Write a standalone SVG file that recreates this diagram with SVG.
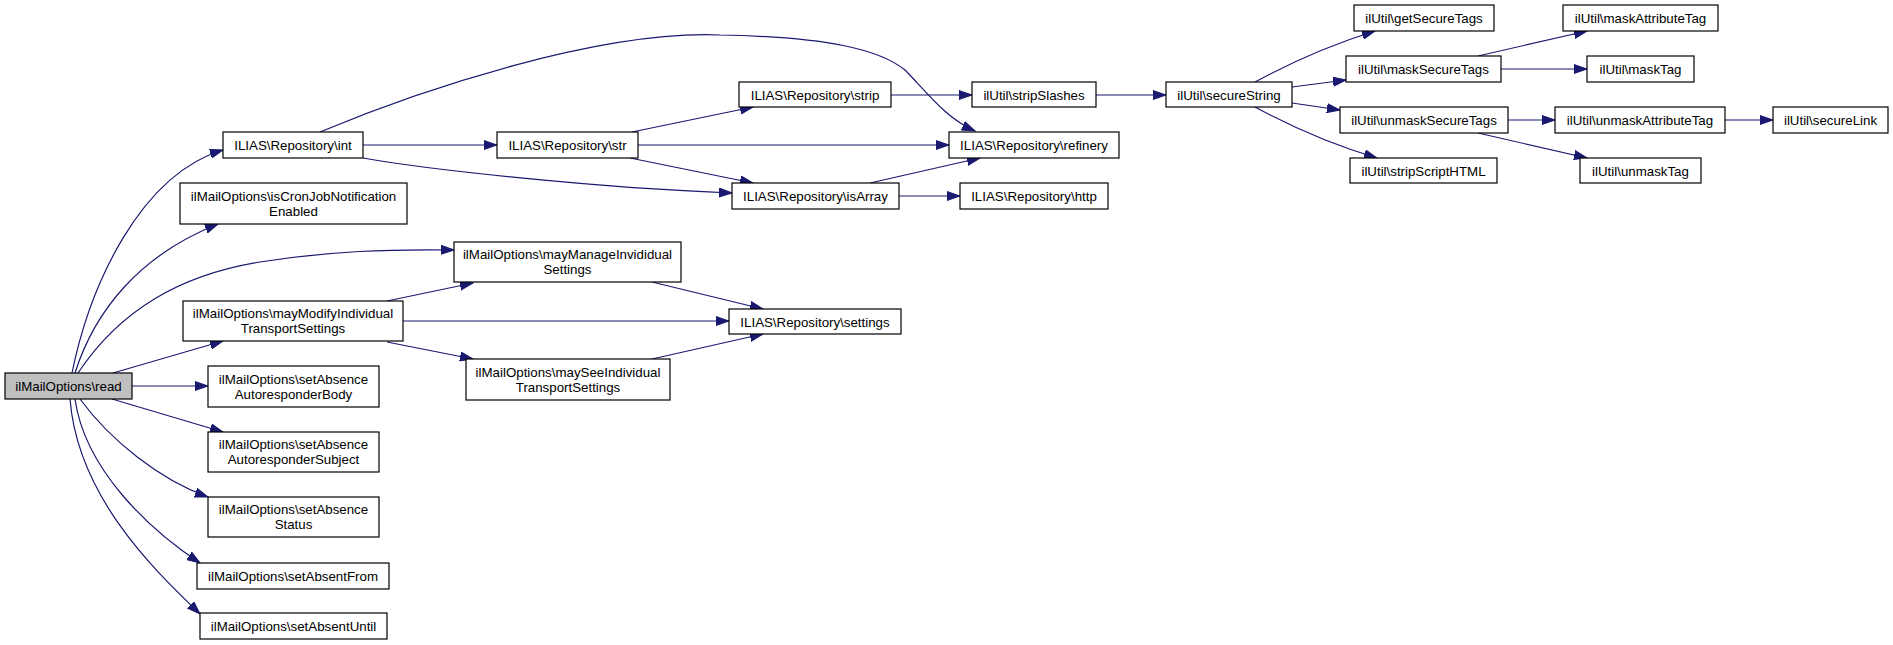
<svg xmlns="http://www.w3.org/2000/svg" width="1893" height="645" viewBox="0 0 1893 645">
<defs>
<style>
.n rect{fill:#fff;stroke:#000;stroke-width:1.2}
.n.root rect{fill:#bfbfbf}
.n text{font-family:"Liberation Sans",Arial,sans-serif;font-size:13.3px;text-anchor:middle;fill:#000}
.e path{fill:none;stroke:#191970;stroke-width:1.2;marker-end:url(#arr)}
</style>
<marker id="arr" markerWidth="14" markerHeight="10" refX="13" refY="5" orient="auto" markerUnits="userSpaceOnUse">
<path d="M0,0.5 L13,5 L0,9.5 z" fill="#191970" stroke="#191970" stroke-width="1"/>
</marker>
</defs>
<rect width="1893" height="645" fill="#fff"/>
<g class="e" id="edges">
<path d="M72,373 C90,285 140,175 223,150"/>
<path d="M75,373 C95,310 140,255 218,224"/>
<path d="M78,373 C120,310 180,275 260,262 C330,251 390,249 454,250"/>
<path d="M113,373 L223,341"/>
<path d="M132,386 L208,386"/>
<path d="M112,399 L223,432"/>
<path d="M80,399 C110,440 160,480 208,497"/>
<path d="M75,399 C85,470 150,530 200,563"/>
<path d="M70,399 C78,500 160,575 200,614"/>
<path d="M363,145 L497,145"/>
<path d="M320,132 C420,90 600,30 720,35 C830,37 880,50 905,70 C925,90 945,118 975,131"/>
<path d="M363,158 C430,170 600,188 732,193"/>
<path d="M632,132 L753,107"/>
<path d="M638,145 L949,145"/>
<path d="M630,158 L753,183"/>
<path d="M870,183 L980,158"/>
<path d="M899,196 L960,196"/>
<path d="M891,95 L972,95"/>
<path d="M1096,95 L1166,95"/>
<path d="M1255,82 C1290,63 1330,45 1375,31"/>
<path d="M1292,87 L1346,80"/>
<path d="M1292,103 L1340,110"/>
<path d="M1255,107 C1290,126 1330,144 1377,158"/>
<path d="M1478,56 L1587,31"/>
<path d="M1501,69 L1587,69"/>
<path d="M1508,120 L1555,120"/>
<path d="M1478,133 L1587,158"/>
<path d="M1725,120 L1773,120"/>
<path d="M387,301 L473,283"/>
<path d="M403,321 L729,321"/>
<path d="M387,342 L473,359"/>
<path d="M652,282 L763,309"/>
<path d="M652,359 L763,334"/>
</g>
<g class="n root" id="read"><rect x="5" y="373" width="127" height="26"/><text x="68.5" y="391">ilMailOptions\read</text></g>
<g class="n" id="int"><rect x="223" y="132" width="140" height="26"/><text x="293" y="150">ILIAS\Repository\int</text></g>
<g class="n" id="isCron"><rect x="180" y="183" width="227" height="41"/><text x="293.5" y="200.5">ilMailOptions\isCronJobNotification</text><text x="293.5" y="215.5">Enabled</text></g>
<g class="n" id="mayManage"><rect x="454" y="242" width="227" height="40"/><text x="567.5" y="259">ilMailOptions\mayManageInvididual</text><text x="567.5" y="274">Settings</text></g>
<g class="n" id="mayModify"><rect x="183" y="301" width="220" height="40"/><text x="293" y="318">ilMailOptions\mayModifyIndividual</text><text x="293" y="333">TransportSettings</text></g>
<g class="n" id="setBody"><rect x="208" y="366" width="171" height="41"/><text x="293.5" y="383.5">ilMailOptions\setAbsence</text><text x="293.5" y="398.5">AutoresponderBody</text></g>
<g class="n" id="maySee"><rect x="466" y="359" width="204" height="41"/><text x="568" y="376.5">ilMailOptions\maySeeIndividual</text><text x="568" y="391.5">TransportSettings</text></g>
<g class="n" id="setSubject"><rect x="208" y="432" width="171" height="40"/><text x="293.5" y="449">ilMailOptions\setAbsence</text><text x="293.5" y="464">AutoresponderSubject</text></g>
<g class="n" id="setStatus"><rect x="208" y="497" width="171" height="40"/><text x="293.5" y="514">ilMailOptions\setAbsence</text><text x="293.5" y="529">Status</text></g>
<g class="n" id="setFrom"><rect x="197" y="563" width="192" height="26"/><text x="293" y="581">ilMailOptions\setAbsentFrom</text></g>
<g class="n" id="setUntil"><rect x="200" y="613" width="187" height="26"/><text x="293.5" y="631">ilMailOptions\setAbsentUntil</text></g>
<g class="n" id="strip"><rect x="739" y="82" width="152" height="25"/><text x="815" y="99.5">ILIAS\Repository\strip</text></g>
<g class="n" id="str"><rect x="497" y="132" width="141" height="26"/><text x="567.5" y="150">ILIAS\Repository\str</text></g>
<g class="n" id="isArray"><rect x="732" y="183" width="167" height="26"/><text x="815.5" y="201">ILIAS\Repository\isArray</text></g>
<g class="n" id="settings"><rect x="729" y="309" width="172" height="25"/><text x="815" y="326.5">ILIAS\Repository\settings</text></g>
<g class="n" id="stripSlashes"><rect x="972" y="82" width="124" height="25"/><text x="1034" y="99.5">ilUtil\stripSlashes</text></g>
<g class="n" id="refinery"><rect x="949" y="132" width="170" height="26"/><text x="1034" y="150">ILIAS\Repository\refinery</text></g>
<g class="n" id="http"><rect x="960" y="183" width="148" height="26"/><text x="1034" y="201">ILIAS\Repository\http</text></g>
<g class="n" id="secureString"><rect x="1166" y="82" width="126" height="25"/><text x="1229" y="99.5">ilUtil\secureString</text></g>
<g class="n" id="getSecureTags"><rect x="1354" y="5" width="140" height="26"/><text x="1424" y="23">ilUtil\getSecureTags</text></g>
<g class="n" id="maskSecureTags"><rect x="1346" y="56" width="155" height="26"/><text x="1423.5" y="74">ilUtil\maskSecureTags</text></g>
<g class="n" id="unmaskSecureTags"><rect x="1340" y="107" width="168" height="26"/><text x="1424" y="125">ilUtil\unmaskSecureTags</text></g>
<g class="n" id="stripScriptHTML"><rect x="1350" y="158" width="147" height="25"/><text x="1423.5" y="175.5">ilUtil\stripScriptHTML</text></g>
<g class="n" id="maskAttributeTag"><rect x="1563" y="5" width="155" height="26"/><text x="1640.5" y="23">ilUtil\maskAttributeTag</text></g>
<g class="n" id="maskTag"><rect x="1587" y="56" width="107" height="26"/><text x="1640.5" y="74">ilUtil\maskTag</text></g>
<g class="n" id="unmaskAttributeTag"><rect x="1555" y="107" width="170" height="26"/><text x="1640" y="125">ilUtil\unmaskAttributeTag</text></g>
<g class="n" id="secureLink"><rect x="1773" y="107" width="115" height="26"/><text x="1830.5" y="125">ilUtil\secureLink</text></g>
<g class="n" id="unmaskTag"><rect x="1580" y="158" width="121" height="25"/><text x="1640.5" y="175.5">ilUtil\unmaskTag</text></g>
</svg>
